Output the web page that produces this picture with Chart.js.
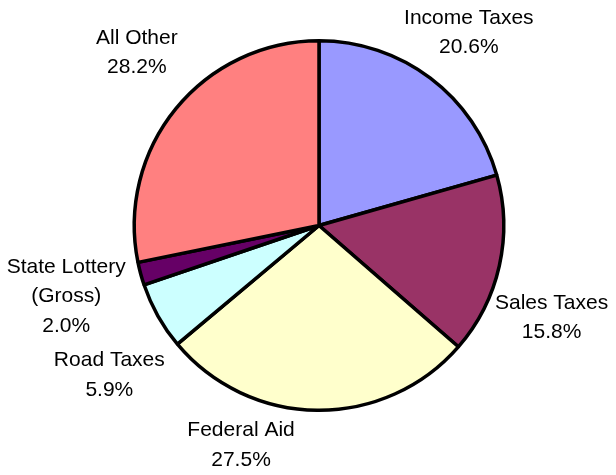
<!DOCTYPE html>
<html>
<head>
<meta charset="utf-8">
<script src="https://cdn.jsdelivr.net/npm/chart.js@4/dist/chart.umd.min.js"></script>
<style>
  html, body { margin: 0; padding: 0; background: #fff; }
  #wrap { width: 616px; height: 475px; }
</style>
</head>
<body>
<div id="wrap"><canvas id="my-pie"></canvas></div>
<script>
// data
const categories = ["Income Taxes", "Sales Taxes", "Federal Aid", "Road Taxes", "State Lottery (Gross)", "All Other"]
const labelLines = [["Income Taxes"], ["Sales Taxes"], ["Federal Aid"], ["Road Taxes"], ["State Lottery", "(Gross)"], ["All Other"]]
const shares = [20.6, 15.8, 27.5, 5.9, 2.0, 28.2]
const sliceColors = ["#9999FF", "#993366", "#FFFFCC", "#CCFFFF", "#660066", "#FF8080"]

// label centres, as multiples of the radius from the pie centre
const labelSpots = [[0.811, -1.043], [1.259, 0.5], [-0.422, 1.189], [-1.135, 0.811], [-1.368, 0.384], [-0.986, -0.935]]

const pieLabels = {
  id: "pieLabels",
  afterDraw(chart) {
    const ctx = chart.ctx
    const arcs = chart.getDatasetMeta(0).data
    ctx.save()
    ctx.font = "21px 'Liberation Sans', Arial, sans-serif"
    ctx.fillStyle = "#000"
    ctx.textAlign = "center"
    ctx.textBaseline = "middle"
    const lineH = 29.5
    arcs.forEach((arc, i) => {
      const r = arc.outerRadius
      const cx = arc.x + labelSpots[i][0] * r
      const cy = arc.y + labelSpots[i][1] * r
      const lines = labelLines[i].concat([shares[i].toFixed(1) + "%"])
      const top = cy - (lines.length - 1) * lineH / 2
      lines.forEach((t, k) => ctx.fillText(t, cx, top + k * lineH))
    })
    ctx.restore()
  }
}

const myPie = document.getElementById("my-pie")
let pieChart = new Chart(myPie, {
  type: "pie",
  data: {
    labels: categories,
    datasets: [{
      data: shares,
      backgroundColor: sliceColors,
      borderColor: "#000",
      borderWidth: 3.5
    }]
  },
  options: {
    responsive: true,
    maintainAspectRatio: false,
    animation: false,
    layout: { padding: { left: 98, right: 76, top: 39, bottom: 63 } },
    plugins: {
      legend: { display: false },
      tooltip: { enabled: false }
    }
  },
  plugins: [pieLabels]
})
</script>
</body>
</html>
